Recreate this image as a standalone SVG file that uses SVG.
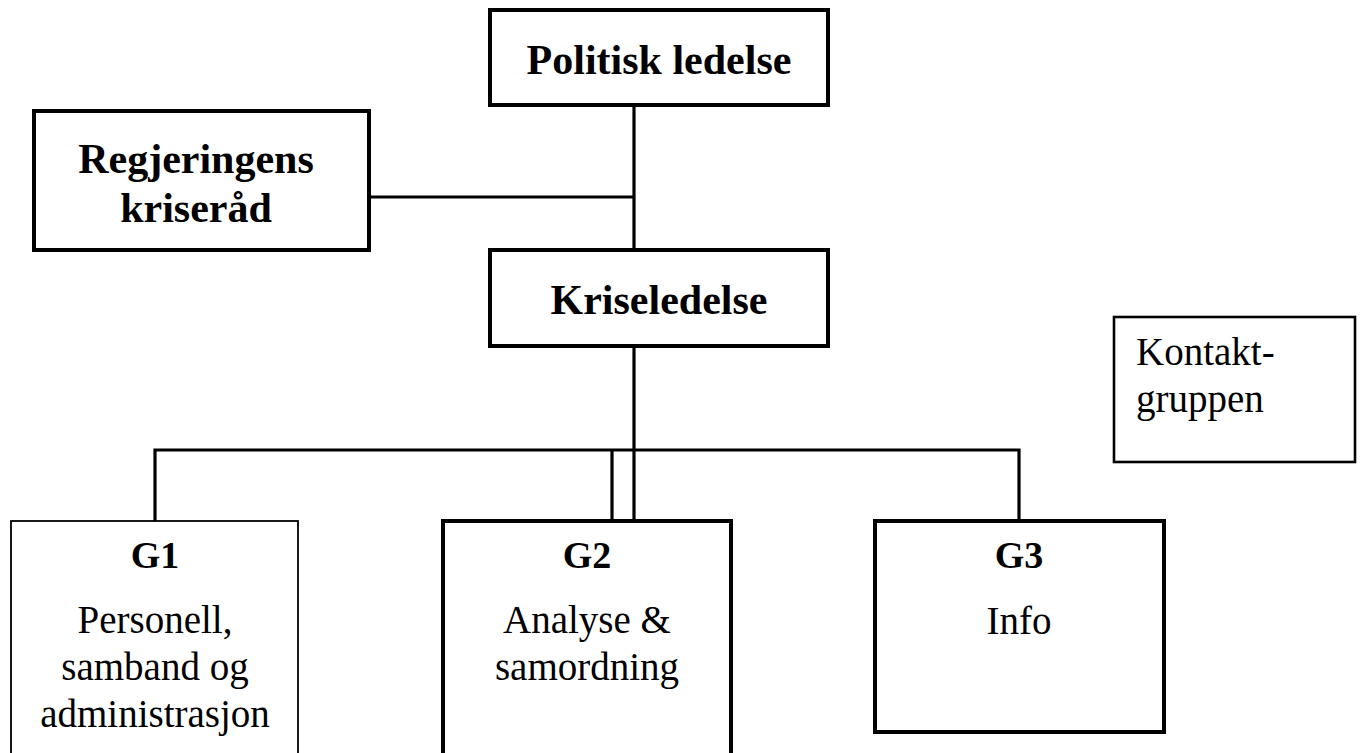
<svg xmlns="http://www.w3.org/2000/svg" width="1362" height="753" viewBox="0 0 1362 753">
<style>
.box{fill:#fff;stroke:#000;stroke-width:4}
.thin{fill:#fff;stroke:#000;stroke-width:1.8}
.mid{fill:#fff;stroke:#000;stroke-width:2.6}
.ln{fill:none;stroke:#000;stroke-width:3.2}
.b{font-family:"Liberation Serif","Times New Roman",serif;font-weight:bold;font-size:42px;fill:#000;text-anchor:middle}
.h{font-family:"Liberation Serif","Times New Roman",serif;font-weight:bold;font-size:38px;fill:#000;text-anchor:middle}
.r{font-family:"Liberation Serif","Times New Roman",serif;font-size:39px;fill:#000;text-anchor:middle}
.l{font-family:"Liberation Serif","Times New Roman",serif;font-size:39px;fill:#000}
</style>
<rect width="1362" height="753" fill="#fff"/>
<g id="connectors">
<line class="ln" x1="634" y1="105" x2="634" y2="250"/>
<line class="ln" x1="369" y1="197" x2="634" y2="197"/>
<line class="ln" x1="634" y1="346" x2="634" y2="521"/>
<polyline class="ln" points="155,521 155,450 1019,450 1019,521"/>
<line class="ln" x1="612" y1="450" x2="612" y2="521"/>
</g>
<g id="politisk">
<rect class="box" x="490" y="10" width="338" height="95"/>
<text class="b" x="659" y="74">Politisk ledelse</text>
</g>
<g id="regjeringens">
<rect class="box" x="34" y="111" width="335" height="139"/>
<text class="b" x="196" y="173">Regjeringens</text>
<text class="b" x="196" y="222">kriseråd</text>
</g>
<g id="kriseledelse">
<rect class="box" x="490" y="250" width="338" height="96"/>
<text class="b" x="659" y="314">Kriseledelse</text>
</g>
<g id="kontaktgruppen">
<rect class="mid" x="1114" y="317" width="241" height="145"/>
<text class="l" x="1136" y="365">Kontakt-</text>
<text class="l" x="1136" y="412">gruppen</text>
</g>
<g id="g1">
<rect class="thin" x="11" y="521" width="287" height="250"/>
<text class="h" x="155" y="568">G1</text>
<text class="r" x="155" y="633">Personell,</text>
<text class="r" x="155" y="680">samband og</text>
<text class="r" x="155" y="727">administrasjon</text>
</g>
<g id="g2">
<rect class="box" x="443" y="521" width="288" height="250"/>
<text class="h" x="587" y="568">G2</text>
<text class="r" x="587" y="633">Analyse &amp;</text>
<text class="r" x="587" y="680">samordning</text>
</g>
<g id="g3">
<rect class="box" x="875" y="521" width="289" height="211"/>
<text class="h" x="1019" y="568">G3</text>
<text class="r" x="1019" y="634">Info</text>
</g>
</svg>
